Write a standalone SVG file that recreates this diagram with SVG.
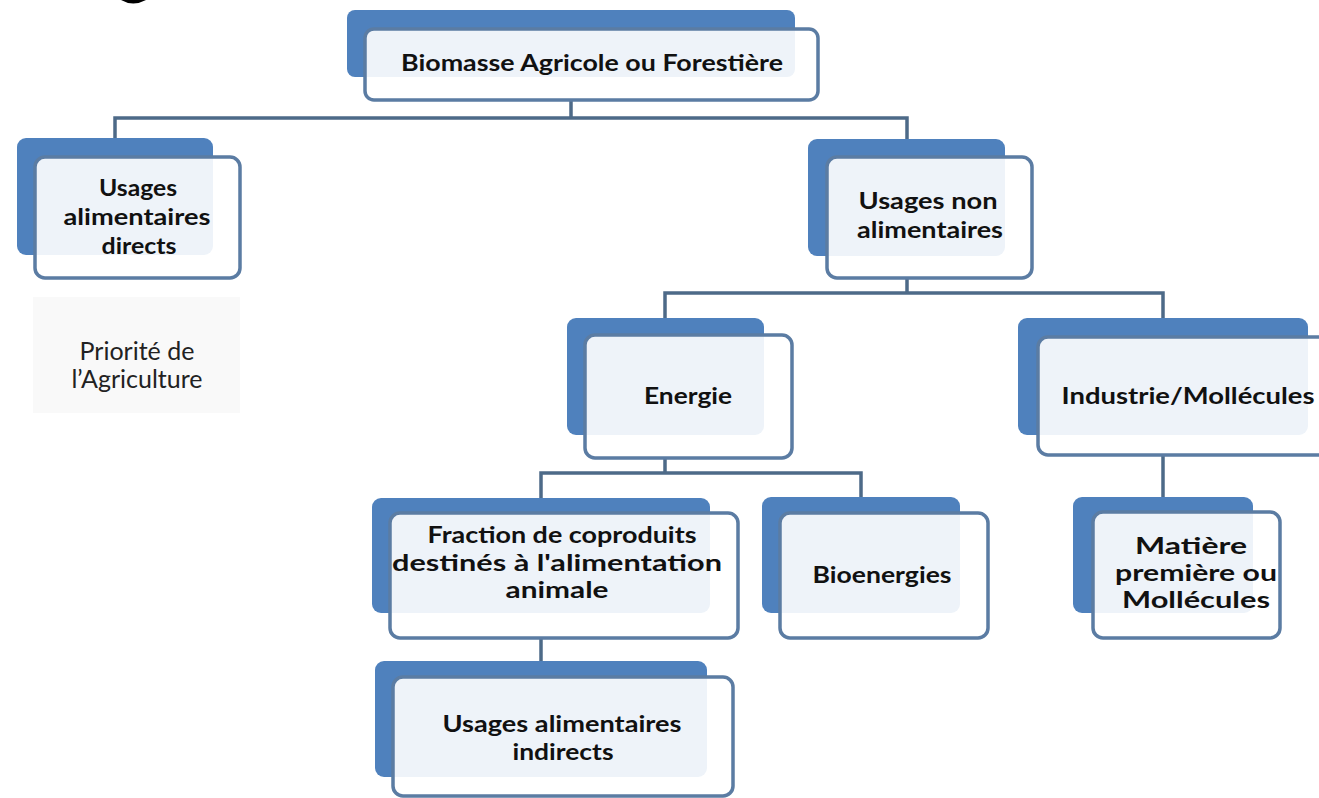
<svg xmlns="http://www.w3.org/2000/svg" width="1319" height="798" viewBox="0 0 1319 798">
<style>
.back{fill:#4f81bd;}
.front{fill:#ffffff;fill-opacity:0.9;stroke:#5b7ca3;stroke-width:3.5;}
.lbl{font-family:Lato,"Open Sans","Liberation Sans",sans-serif;font-weight:bold;font-size:22px;fill:#111;text-anchor:middle;}
.reg{font-family:Lato,"Open Sans","Liberation Sans",sans-serif;font-size:25px;fill:#222;text-anchor:middle;}
.conn{stroke:#4d6a88;stroke-width:3.5;fill:none;}
</style>
<rect x="0" y="0" width="1319" height="798" fill="#ffffff"/>
<path d="M121 0 Q133 7 146 0 Z" fill="#000"/>
<g id="connectors">
<path class="conn" d="M571 100 V118 M115 138 V118 H907 V139"/>
<path class="conn" d="M907 278 V293 M665 318 V293 H1163 V318"/>
<path class="conn" d="M665 458 V473 M541 498 V473 H861 V497"/>
<path class="conn" d="M1163 455 V497"/>
<path class="conn" d="M541 638 V661"/>
</g>
<g id="n-biomasse">
<rect class="back" x="347" y="10" width="448" height="67" rx="8"/>
<rect class="front" x="365" y="29" width="453" height="71" rx="9"/>
<text class="lbl" x="592" y="71" textLength="382" lengthAdjust="spacingAndGlyphs">Biomasse Agricole ou Forestière</text>
</g>
<g id="n-directs">
<rect class="back" x="17" y="138" width="196" height="117" rx="9"/>
<rect class="front" x="35" y="157" width="205" height="121" rx="10"/>
<text class="lbl" x="138" y="196" textLength="78" lengthAdjust="spacingAndGlyphs">Usages</text>
<text class="lbl" x="137" y="225" textLength="147" lengthAdjust="spacingAndGlyphs">alimentaires</text>
<text class="lbl" x="139" y="254" textLength="75" lengthAdjust="spacingAndGlyphs">directs</text>
</g>
<g id="n-priorite">
<rect x="33" y="297" width="207" height="116" fill="#f9f9f9"/>
<text class="reg" x="137" y="360">Priorité de</text>
<text class="reg" x="137" y="388">l’Agriculture</text>
</g>
<g id="n-nonalim">
<rect class="back" x="808" y="139" width="197" height="117" rx="9"/>
<rect class="front" x="827" y="157" width="205" height="121" rx="10"/>
<text class="lbl" x="928" y="209" textLength="139" lengthAdjust="spacingAndGlyphs">Usages non</text>
<text class="lbl" x="930" y="238" textLength="146" lengthAdjust="spacingAndGlyphs">alimentaires</text>
</g>
<g id="n-energie">
<rect class="back" x="567" y="318" width="197" height="117" rx="9"/>
<rect class="front" x="585" y="335" width="207" height="123" rx="10"/>
<text class="lbl" x="688" y="404" textLength="88" lengthAdjust="spacingAndGlyphs">Energie</text>
</g>
<g id="n-industrie">
<rect class="back" x="1018" y="318" width="290" height="117" rx="9"/>
<rect class="front" x="1038" y="337" width="300" height="118" rx="10"/>
<text class="lbl" x="1188" y="404" textLength="253" lengthAdjust="spacingAndGlyphs">Industrie/Mollécules</text>
</g>
<g id="n-fraction">
<rect class="back" x="372" y="498" width="338" height="115" rx="9"/>
<rect class="front" x="390" y="513" width="348" height="125" rx="10"/>
<text class="lbl" x="562" y="543" textLength="269" lengthAdjust="spacingAndGlyphs">Fraction de coproduits</text>
<text class="lbl" x="557" y="571" textLength="330" lengthAdjust="spacingAndGlyphs">destinés à l'alimentation</text>
<text class="lbl" x="557" y="598" textLength="103" lengthAdjust="spacingAndGlyphs">animale</text>
</g>
<g id="n-bioenergies">
<rect class="back" x="762" y="497" width="198" height="116" rx="9"/>
<rect class="front" x="780" y="513" width="208" height="125" rx="10"/>
<text class="lbl" x="882" y="583" textLength="139" lengthAdjust="spacingAndGlyphs">Bioenergies</text>
</g>
<g id="n-matiere">
<rect class="back" x="1073" y="497" width="180" height="116" rx="9"/>
<rect class="front" x="1093" y="512" width="187" height="126" rx="10"/>
<text class="lbl" x="1191" y="554" textLength="112" lengthAdjust="spacingAndGlyphs">Matière</text>
<text class="lbl" x="1196" y="581" textLength="162" lengthAdjust="spacingAndGlyphs">première ou</text>
<text class="lbl" x="1196" y="608" textLength="148" lengthAdjust="spacingAndGlyphs">Mollécules</text>
</g>
<g id="n-indirects">
<rect class="back" x="375" y="661" width="332" height="116" rx="9"/>
<rect class="front" x="393" y="677" width="340" height="119" rx="10"/>
<text class="lbl" x="562" y="732" textLength="239" lengthAdjust="spacingAndGlyphs">Usages alimentaires</text>
<text class="lbl" x="563" y="760" textLength="101" lengthAdjust="spacingAndGlyphs">indirects</text>
</g>
</svg>
